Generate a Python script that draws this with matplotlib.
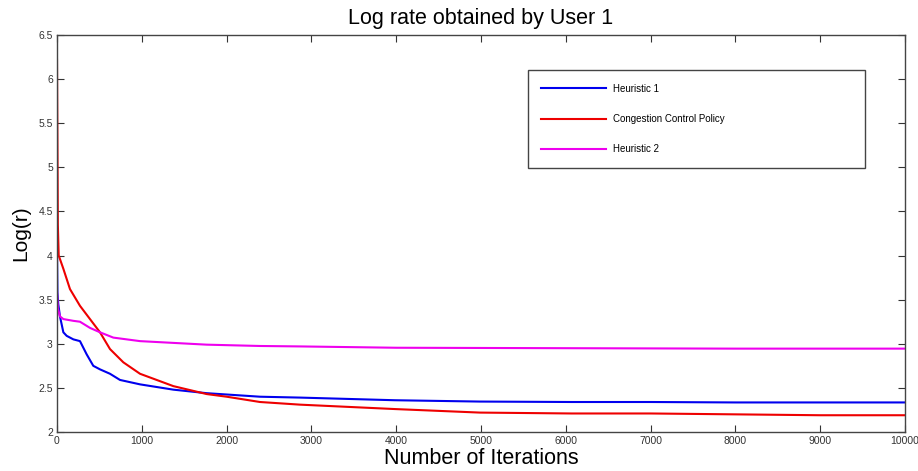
import matplotlib
matplotlib.use("Agg")
import matplotlib.pyplot as plt

plt.rcParams['font.family'] = ['Liberation Sans', 'DejaVu Sans']

# Data
h1_x = [0, 5, 15, 35, 75, 114, 193, 271, 350, 428, 507, 625, 743, 979, 1372, 1765, 2394, 2866, 3986, 4988, 6070, 7000, 8000, 9000, 10000]
h1_y = [4.10, 3.58, 3.45, 3.31, 3.13, 3.09, 3.05, 3.03, 2.88, 2.75, 2.71, 2.66, 2.59, 2.54, 2.48, 2.44, 2.40, 2.39, 2.36, 2.345, 2.34, 2.34, 2.335, 2.335, 2.335]

cc_x = [0, 10, 20, 35, 75, 153, 271, 389, 507, 625, 782, 979, 1372, 1765, 2001, 2394, 2866, 3986, 4988, 6070, 7000, 8000, 9000, 10000]
cc_y = [6.22, 4.35, 4.00, 3.96, 3.85, 3.62, 3.43, 3.28, 3.13, 2.94, 2.79, 2.66, 2.52, 2.43, 2.40, 2.34, 2.31, 2.26, 2.22, 2.21, 2.21, 2.20, 2.19, 2.19]

h2_x = [0, 10, 35, 75, 193, 271, 389, 507, 664, 979, 1372, 1765, 2394, 2866, 4000, 6000, 8000, 10000]
h2_y = [3.60, 3.40, 3.31, 3.28, 3.26, 3.25, 3.18, 3.13, 3.07, 3.03, 3.01, 2.99, 2.975, 2.97, 2.955, 2.95, 2.945, 2.945]

labels = ["Heuristic 1", "Congestion Control Policy", "Heuristic 2"]
colors = ["#0000ee", "#ee0000", "#ee00ee"]
xticks = list(range(0, 10001, 1000))
yticks = [2, 2.5, 3, 3.5, 4, 4.5, 5, 5.5, 6, 6.5]
ytick_labels = ["2", "2.5", "3", "3.5", "4", "4.5", "5", "5.5", "6", "6.5"]

fig = plt.figure(figsize=(9.18, 4.71), dpi=100)
ax = fig.add_axes([57/918, 1 - 432/471, 848/918, 397/471])

ax.plot(h1_x, h1_y, color=colors[0], lw=1.5, label=labels[0])
ax.plot(cc_x, cc_y, color=colors[1], lw=1.5, label=labels[1])
ax.plot(h2_x, h2_y, color=colors[2], lw=1.5, label=labels[2])

ax.set_xlim(0, 10000)
ax.set_ylim(2, 6.5)
ax.set_xticks(xticks)
ax.set_yticks(yticks)
ax.set_yticklabels(ytick_labels)
ax.tick_params(direction='in', top=True, right=True, labelsize=7.5, length=5,
               colors='#333333', pad=3)
for s in ax.spines.values():
    s.set_color('#444444')
    s.set_linewidth(1.0)

ax.set_title("Log rate obtained by User 1", fontsize=15.5, pad=8)
ax.set_xlabel("Number of Iterations", fontsize=15.5, labelpad=1)
ax.set_ylabel("Log(r)", fontsize=15, labelpad=6)

leg = ax.legend(loc='upper left', bbox_to_anchor=(0.555, 0.667, 0.398, 0.245),
                mode='expand', borderaxespad=0, fontsize=7, handlelength=6.7,
                handletextpad=0.7, labelspacing=2.1, borderpad=1.4,
                fancybox=False, framealpha=1)
leg.get_frame().set_edgecolor('#444444')
leg.get_frame().set_linewidth(1.0)

fig.savefig("out.png", dpi=100)
